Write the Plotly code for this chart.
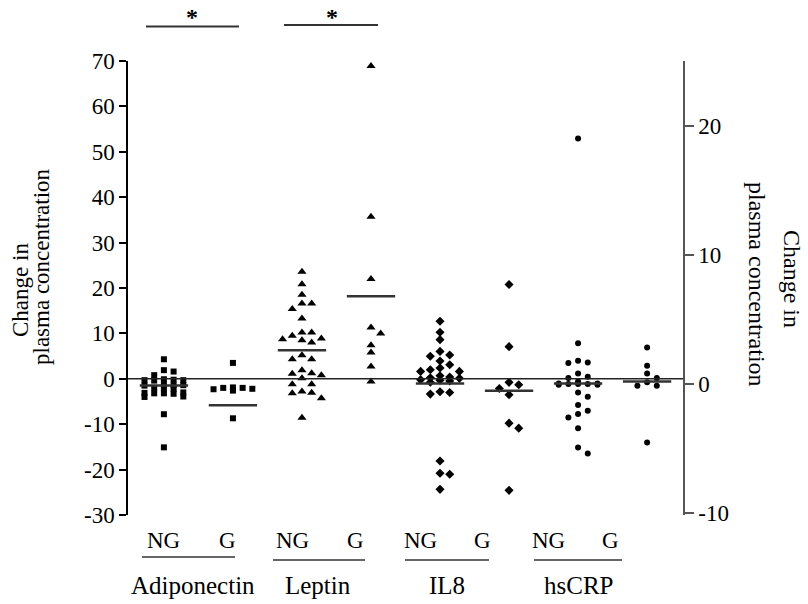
import numpy as np
import plotly.graph_objects as go

# ---------------- data ----------------
groups = ["Adiponectin", "Leptin", "IL8", "hsCRP"]
subgroups = ["NG", "G"]

# left-axis series
adipo_ng = [4.3, 1.9, 1.6, 0.8, -0.3, -0.2, -0.4, -0.3, -0.1, -1.4, -1.3, -1.5, -1.4,
            -2.1, -2.0, -2.2, -3.2, -3.1, -3.3, -3.2, -3.0, -3.9, -4.0, -7.8, -15.1]
adipo_g = [3.5, -2.0, -1.9, -2.3, -2.6, -2.2, -2.0, -8.7]
leptin_ng = [23.6, 20.8, 18.5, 16.6, 16.6, 15.4, 13.3, 10.2, 10.2, 9.5, 8.9, 8.7, 8.5, 8.0,
             5.2, 4.3, 4.3, 1.9, 1.2, 1.1, 0.8, 0.1, -1.2, -1.2, -2.8, -3.1, -3.2, -4.3, -8.6]
leptin_g = [68.9, 35.7, 22.0, 11.3, 10.0, 7.4, 5.8, 2.7, -0.6]
# right-axis series
il8_ng = [4.83, 3.97, 3.40, 2.49, 2.21, 2.11, 1.75, 1.46, 1.20, 1.07, 0.94, 0.94, 0.6, 0.5,
          0.45, 0.4, 0.3, 0.25, 0.2, 0.1, -0.64, -0.69, -0.82, -6.0, -6.95, -7.03, -8.2]
il8_g = [7.68, 2.86, 0.09, -0.09, -0.38, -0.87, -3.07, -3.46, -8.28]
hscrp_ng = [19.0, 3.12, 1.77, 1.64, 1.59, 0.78, 0.53, 0.43, 0.16, 0.0, 0.0, -0.04, -0.04,
            -0.09, -0.09, -0.04, -0.69, -1.03, -1.67, -2.11, -2.37, -2.63, -3.46, -4.96, -5.43]
hscrp_g = [2.8, 1.38, 0.78, 0.43, 0.1, -0.17, -0.17, -4.58]

# mean lines as drawn in the figure
mean_lines = [-1.5, -5.8, 6.3, 18.2, 0.0, -0.56, 0.0, 0.15]

left_ticks = [-30, -20, -10, 0, 10, 20, 30, 40, 50, 60, 70]
right_ticks = [-10, 0, 10, 20]

series = [adipo_ng, adipo_g, leptin_ng, leptin_g, il8_ng, il8_g, hscrp_ng, hscrp_g]
axis_of = ["y", "y", "y", "y", "y2", "y2", "y2", "y2"]
symbols = ["square", "square", "triangle-up", "triangle-up",
           "diamond", "diamond", "circle", "circle"]
sizes = [6, 6, 8, 8, 7, 7, 6, 6]

# ---------------- geometry ----------------
W, H = 808, 604
L, R, T, B = 128, 683, 61, 515
xr = [0.48, 8.52]
y1r = [-30, 70]
y2r = [-10.19, 25]
px_x = (R - L) / (xr[1] - xr[0])
px_y = {"y": (B - T) / (y1r[1] - y1r[0]), "y2": (B - T) / (y2r[1] - y2r[0])}


def swarm(vals, ppu, col_px=9.7, min_sep=7.0):
    order = np.argsort(-np.asarray(vals))
    seq = [0, 1, -1, 2, -2]
    cols = {c: [] for c in seq}
    offs = np.zeros(len(vals))
    for i in order:
        yp = vals[i] * ppu
        chosen = None
        for c in seq:
            if all(abs(yp - q) >= min_sep for q in cols[c]):
                chosen = c
                break
        if chosen is None:
            chosen = max(seq, key=lambda c: min(abs(yp - q) for q in cols[c]))
        cols[chosen].append(yp)
        offs[i] = chosen * col_px / px_x
    return offs


fig = go.Figure()
for i, vals in enumerate(series):
    xpos = i + 1 + swarm(vals, px_y[axis_of[i]])
    fig.add_trace(go.Scatter(
        x=xpos, y=vals, mode="markers", yaxis=axis_of[i],
        marker=dict(symbol=symbols[i], size=sizes[i], color="black",
                    line=dict(width=0)),
        showlegend=False, hoverinfo="skip"))
    fig.add_trace(go.Scatter(
        x=[i + 1 - 0.35, i + 1 + 0.35], y=[mean_lines[i]] * 2, mode="lines",
        yaxis=axis_of[i], line=dict(color="#333", width=2.5),
        showlegend=False, hoverinfo="skip"))

FONT = "Liberation Serif"


def px2x(p):
    return (p - L) / (R - L)


def px2y(p):
    return (B - p) / (B - T)


def note(px, py, text, size, angle=0):
    return dict(x=px2x(px), y=px2y(py), xref="paper", yref="paper", text=text,
                textangle=angle, showarrow=False, xanchor="center", yanchor="middle",
                borderpad=0,
                font=dict(family=FONT, size=size, color="black"))


shapes = []
annotations = []
# zero line
shapes.append(dict(type="line", xref="paper", yref="y", x0=0, x1=1, y0=0, y1=0,
                   line=dict(color="#222", width=1.6)))

# sub-labels and group underlines
sub_px = [163, 227, 292, 355, 420, 482, 548, 610]
under_px = [(142, 235, 557), (273, 365, 560), (405, 489, 560), (534, 622, 560)]
grp_px = [193, 318, 447, 578]
for k, p in enumerate(sub_px):
    annotations.append(note(p, 540, subgroups[k % 2], 23))
for g, (a, b, yy) in enumerate(under_px):
    shapes.append(dict(type="line", xref="paper", yref="paper",
                       x0=px2x(a), x1=px2x(b), y0=px2y(yy), y1=px2y(yy),
                       line=dict(color="#333", width=1.6)))
    annotations.append(note(grp_px[g], 585, groups[g], 25))

# significance bars
for (a, b, yy, sx) in [(146, 239, 26.5, 192), (284, 378, 25, 332)]:
    shapes.append(dict(type="line", xref="paper", yref="paper",
                       x0=px2x(a), x1=px2x(b), y0=px2y(yy), y1=px2y(yy),
                       line=dict(color="#333", width=2)))
    annotations.append(note(sx, 17, "<b>*</b>", 24))

# axis titles
annotations += [
    note(20, 290, "Change in", 23, -90),
    note(41, 267, "plasma concentration", 23, -90),
    note(792, 279, "Change in", 24, 90),
    note(757, 284, "plasma concentration", 24, 90),
]

fig.update_layout(
    width=W, height=H,
    margin=dict(l=L, r=W - R, t=T, b=H - B, pad=0),
    paper_bgcolor="white", plot_bgcolor="white",
    font=dict(family=FONT, color="black"),
    xaxis=dict(range=xr, visible=False, showgrid=False, zeroline=False),
    yaxis=dict(range=y1r, tickvals=left_ticks, ticktext=[str(v) for v in left_ticks],
               ticks="outside", ticklen=7, tickwidth=1.5, tickcolor="black",
               showline=True, linecolor="black", linewidth=1.5,
               showgrid=False, zeroline=False,
               tickfont=dict(family=FONT, size=23, color="black")),
    yaxis2=dict(range=y2r, overlaying="y", side="right", anchor="x",
                tickvals=right_ticks, ticktext=[str(v) for v in right_ticks],
                ticks="outside", ticklen=9, tickwidth=1.5, tickcolor="#555",
                showline=True, linecolor="#555", linewidth=1.5,
                showgrid=False, zeroline=False,
                tickfont=dict(family=FONT, size=23, color="black")),
    shapes=shapes, annotations=annotations,
)

fig.write_html("out.html")
